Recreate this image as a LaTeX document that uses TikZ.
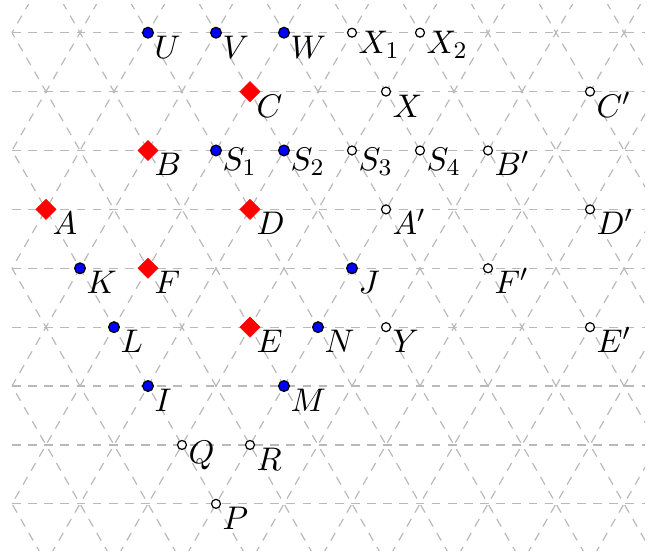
\documentclass[tikz,border=0pt]{standalone}
\usetikzlibrary{shapes.geometric}
\begin{document}
\begin{tikzpicture}[x=11.374pt,y=-19.70pt,
  gridline/.style={gray!55,line width=0.4pt,dash pattern=on 2.9pt off 2.5pt},
  bluept/.style={circle,fill=blue,draw=black,line width=0.4pt,minimum size=3.6pt,inner sep=0pt},
  openpt/.style={circle,fill=white,draw=black,line width=0.4pt,minimum size=3.0pt,inner sep=0pt},
  redpt/.style={diamond,fill=red,draw=red,line width=0.2pt,minimum size=6.8pt,inner sep=0pt},
  lbl/.style={anchor=south west,inner sep=0pt,xshift=2.0pt,yshift=-8.7pt,font=\fontsize{10.95}{13}\selectfont}]
\useasboundingbox (-0.35294,-0.5553) rectangle (18.794,8.886);
\begin{scope}
  \clip (0,-0.48) rectangle (18.62,8.80);
  \foreach \j in {0,...,8} \draw[gridline] (0,\j) -- (18.62,\j);
  \foreach \c in {-10,-8,...,28} {
    \draw[gridline] (\c-1,-1) -- (\c+10,10);
    \draw[gridline] (\c+1,-1) -- (\c-10,10);
  }
\end{scope}
\foreach \n/\pos/\s/\t in {
  U/{4,0}/bluept/U, V/{6,0}/bluept/V, W/{8,0}/bluept/W, X1/{10,0}/openpt/X_1, X2/{12,0}/openpt/X_2,
  C/{7,1}/redpt/C, X/{11,1}/openpt/X, Cp/{17,1}/openpt/C',
  B/{4,2}/redpt/B, S1/{6,2}/bluept/S_1, S2/{8,2}/bluept/S_2, S3/{10,2}/openpt/S_3, S4/{12,2}/openpt/S_4, Bp/{14,2}/openpt/B',
  A/{1,3}/redpt/A, D/{7,3}/redpt/D, Ap/{11,3}/openpt/A', Dp/{17,3}/openpt/D',
  K/{2,4}/bluept/K, F/{4,4}/redpt/F, J/{10,4}/bluept/J, Fp/{14,4}/openpt/F',
  L/{3,5}/bluept/L, E/{7,5}/redpt/E, N/{9,5}/bluept/N, Y/{11,5}/openpt/Y, Ep/{17,5}/openpt/E',
  I/{4,6}/bluept/I, M/{8,6}/bluept/M,
  Q/{5,7}/openpt/Q, R/{7,7}/openpt/R,
  P/{6,8}/openpt/P} {
  \node[\s] (\n) at (\pos) {};
  \node[lbl] (\n-l) at (\n.center) {$\t$};
}
\end{tikzpicture}
\end{document}
